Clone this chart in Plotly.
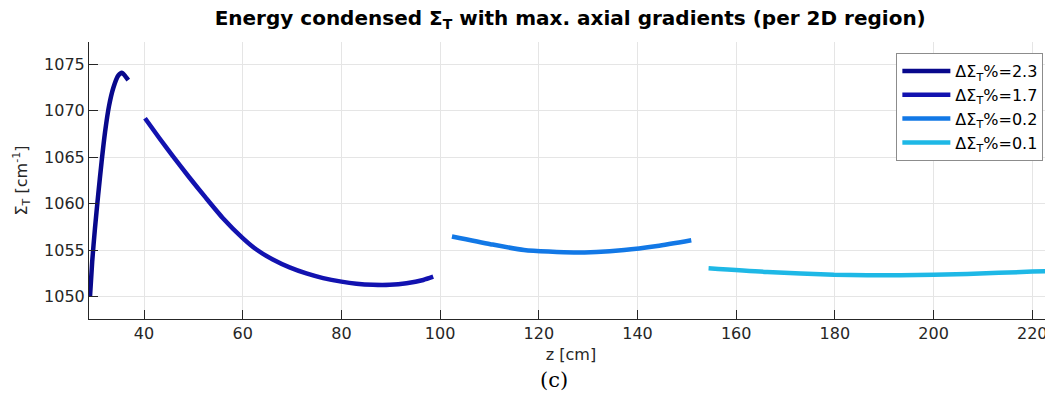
import plotly.graph_objects as go

# Axial profiles of the energy-condensed total cross section, one per 2D region
z_r1 = [29.05, 29.5, 30.05, 30.7, 31.4, 32.1, 32.9, 33.8, 34.8, 35.5, 36.1, 36.8]
sig_r1 = [1050.0, 1053.8, 1057.3, 1060.9, 1064.5, 1067.7, 1070.5, 1072.5, 1073.8, 1074.1, 1073.8, 1073.3]

z_r2 = [40.2, 43.05, 45.8, 49.15, 52.5, 55.9, 60.0, 62.7, 66.1, 69.5, 72.9, 76.3, 80.0,
        83.05, 86.4, 89.8, 93.2, 96.6, 98.6]
sig_r2 = [1069.2, 1067.1, 1065.15, 1062.85, 1060.65, 1058.5, 1056.3, 1055.1, 1054.0, 1053.15,
          1052.5, 1052.0, 1051.62, 1051.4, 1051.28, 1051.28, 1051.45, 1051.8, 1052.15]

z_r3 = [102.4, 110.2, 117.0, 127.1, 137.3, 144.0, 150.9]
sig_r3 = [1056.48, 1055.65, 1055.03, 1054.75, 1055.03, 1055.46, 1056.08]

z_r4 = [154.4, 166.3, 179.8, 193.3, 206.8, 220.0, 224.2]
sig_r4 = [1053.06, 1052.66, 1052.37, 1052.30, 1052.44, 1052.70, 1052.77]

labels = ['ΔΣ<sub>T</sub>%=2.3', 'ΔΣ<sub>T</sub>%=1.7', 'ΔΣ<sub>T</sub>%=0.2', 'ΔΣ<sub>T</sub>%=0.1']
colors = ['#08088c', '#1212b0', '#1278e6', '#1eb8e6']

x_ticks = [40, 60, 80, 100, 120, 140, 160, 180, 200, 220]
y_ticks = [1050, 1055, 1060, 1065, 1070, 1075]

FONT = 'DejaVu Sans'
AX = '#262626'

fig = go.Figure()
for zz, ss, name, col in zip([z_r1, z_r2, z_r3, z_r4], [sig_r1, sig_r2, sig_r3, sig_r4], labels, colors):
    fig.add_trace(go.Scatter(
        x=zz, y=ss, mode='lines', name=name,
        line=dict(color=col, width=4.5, shape='spline', smoothing=0.6),
    ))

# page body adds an 8px offset, so the figure is shifted back via its margins
fig.update_layout(
    width=1045, height=393,
    margin=dict(l=81, r=0, t=34, b=82),
    paper_bgcolor='white', plot_bgcolor='white',
    font=dict(family=FONT, size=16, color=AX),
    title=dict(
        text='<b>Energy condensed Σ<sub>T</sub> with max. axial gradients (per 2D region)</b>',
        x=0.538, xanchor='center', y=0.975, yanchor='middle',
        font=dict(family=FONT, size=20, color='black'),
    ),
    legend=dict(
        x=0.99, xanchor='right', y=0.96, yanchor='top',
        bgcolor='white', bordercolor='#8c8c8c', borderwidth=1,
        itemwidth=48,
        font=dict(family=FONT, size=16, color='black'),
    ),
    showlegend=True,
)

fig.update_xaxes(
    range=[28.85, 224.2], tickvals=x_ticks, automargin=False,
    ticklabeloverflow='allow',
    showgrid=True, gridcolor='#e5e5e5', gridwidth=1,
    showline=True, linecolor=AX, linewidth=1,
    ticks='inside', ticklen=9, tickcolor=AX,
    zeroline=False, tickfont=dict(size=16, color=AX),
    title=dict(text='z [cm]', font=dict(size=16, color=AX), standoff=6),
)
fig.update_yaxes(
    range=[1047.6, 1077.4], tickvals=y_ticks, automargin=False,
    showgrid=True, gridcolor='#e5e5e5', gridwidth=1,
    showline=True, linecolor=AX, linewidth=1,
    ticks='inside', ticklen=9, tickcolor=AX,
    zeroline=False, tickfont=dict(size=16, color=AX),
    title=dict(text='Σ<sub>T</sub> [cm<sup>-1</sup>]', font=dict(size=16, color=AX), standoff=12),
)

fig.add_annotation(
    text='(c)', xref='paper', yref='paper', x=0.482, y=-0.22,
    xanchor='center', yanchor='middle', showarrow=False,
    font=dict(family='DejaVu Serif', size=21, color='black'),
)

fig.write_html('out.html')
